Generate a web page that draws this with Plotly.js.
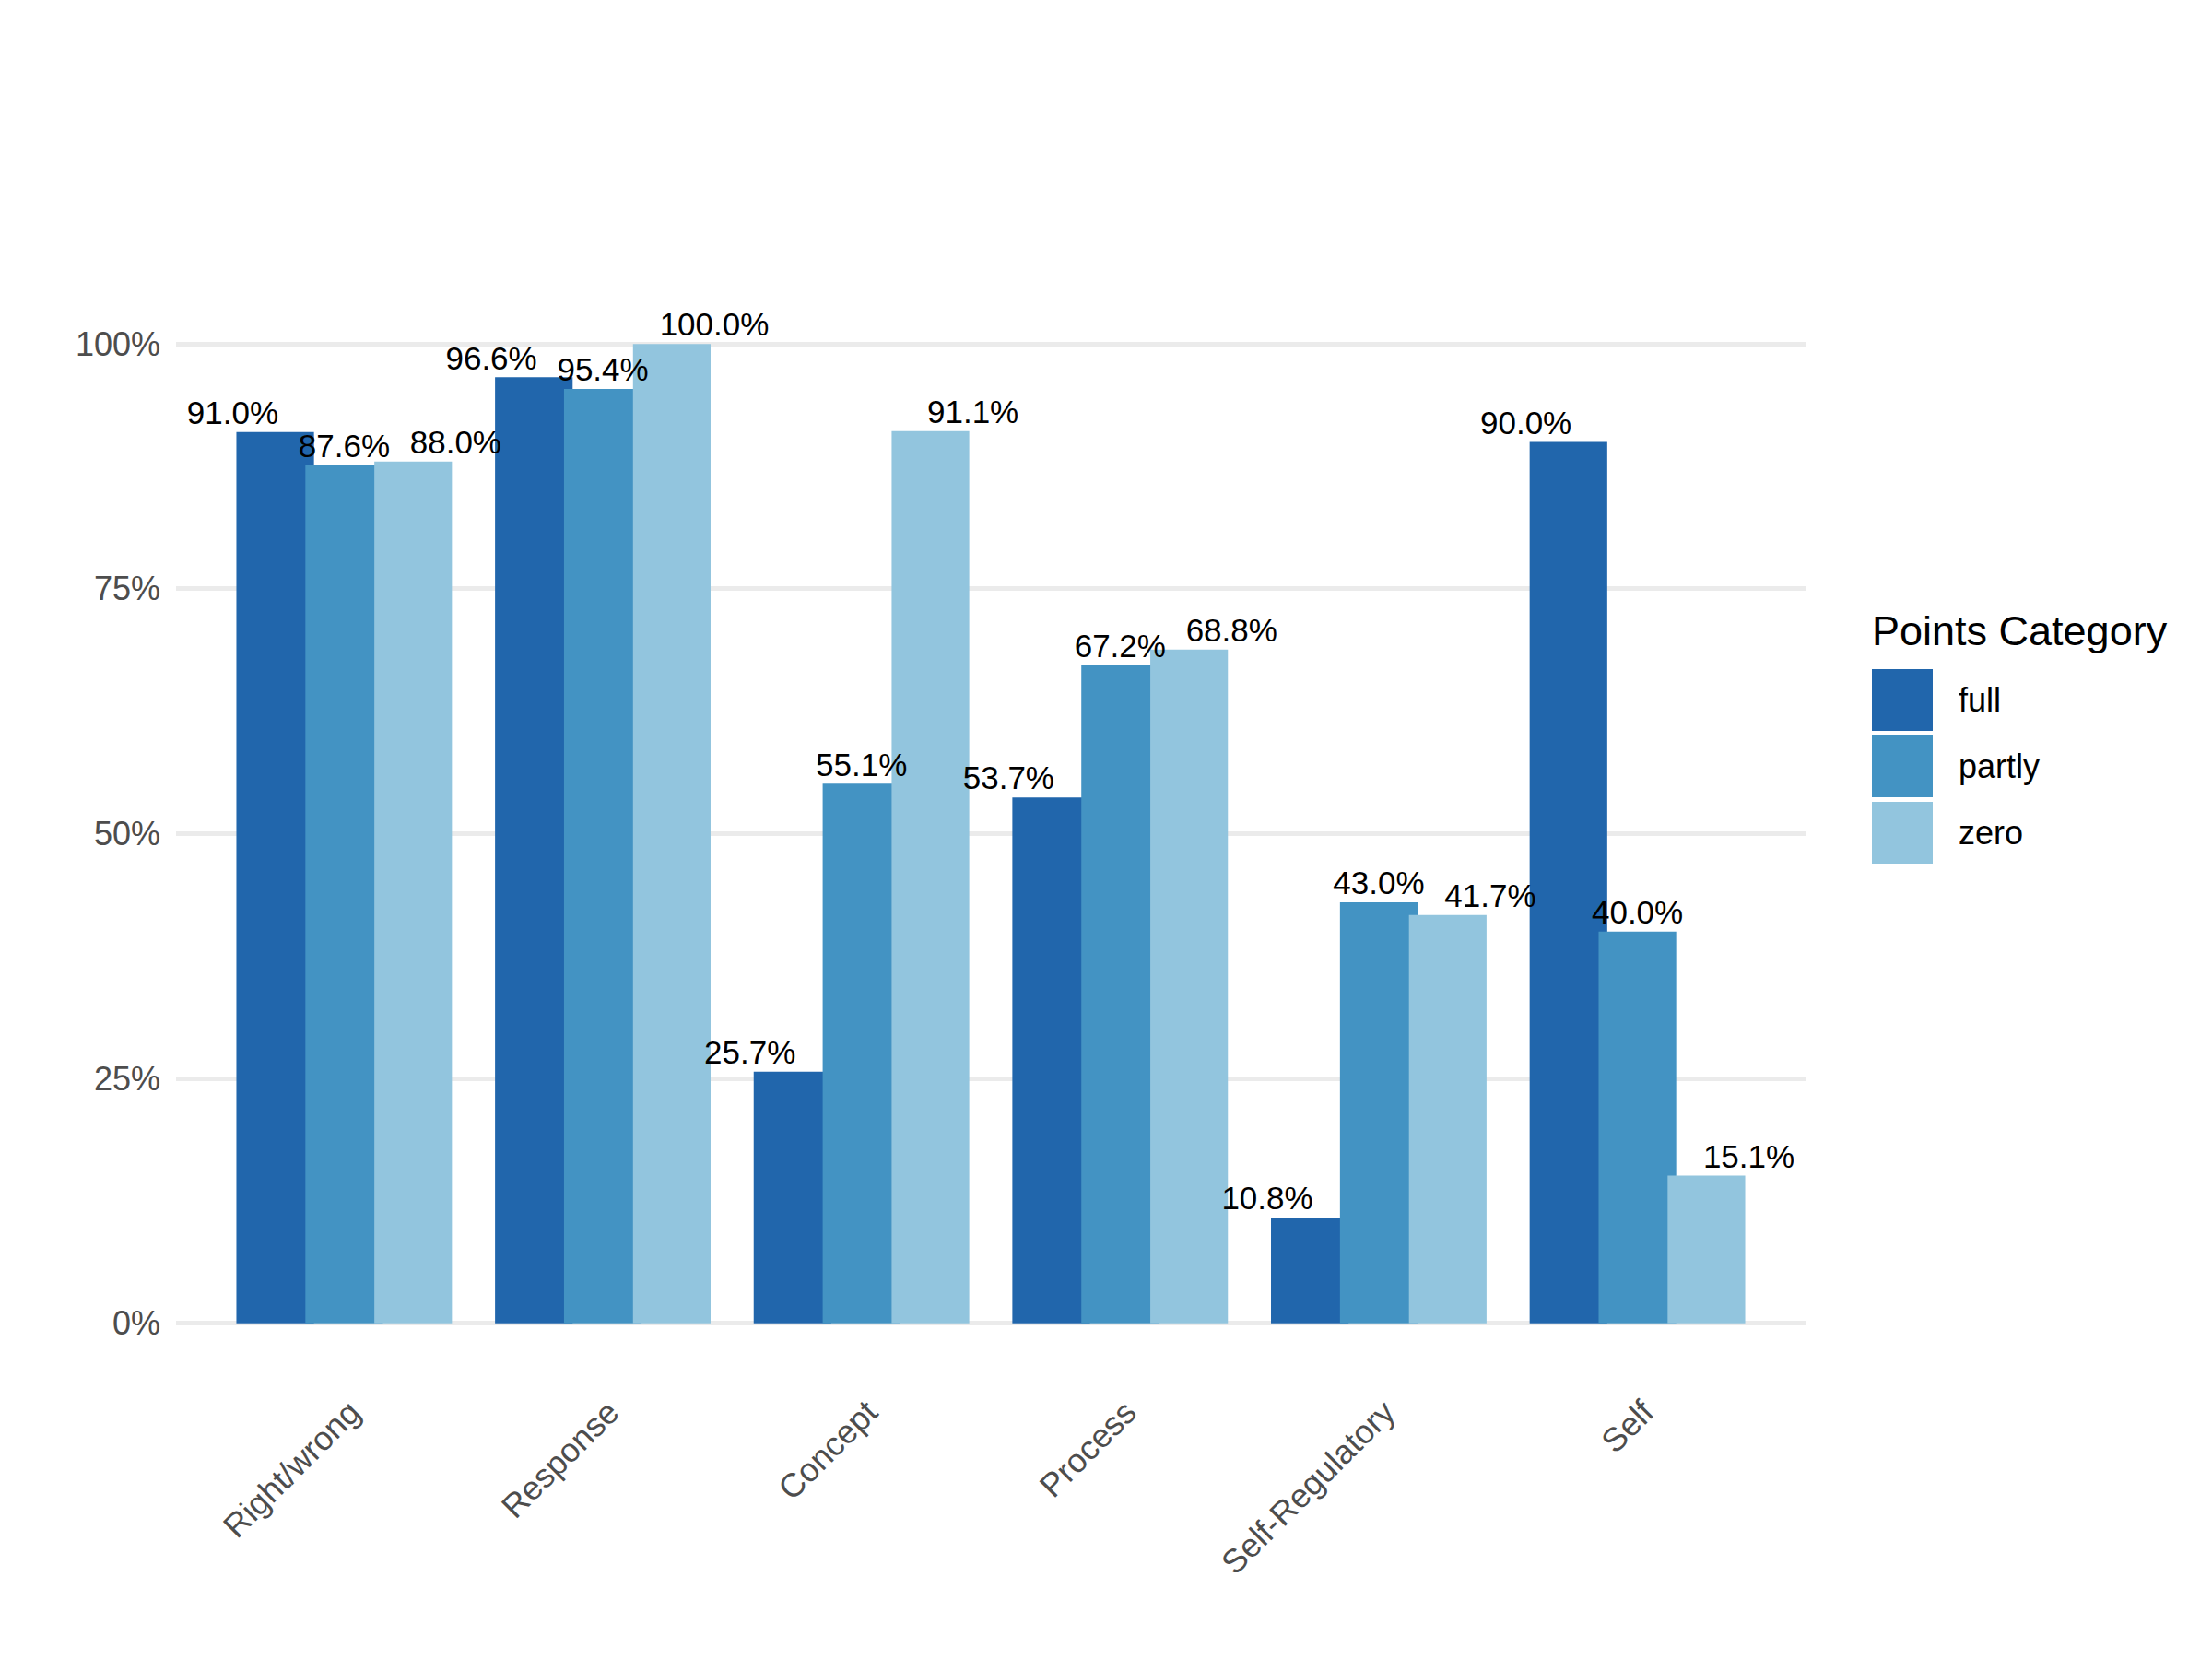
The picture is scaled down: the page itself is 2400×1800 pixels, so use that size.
<!DOCTYPE html>
<html>
<head>
<meta charset="utf-8">
<script src="https://cdn.plot.ly/plotly-3.0.1.min.js"></script>
<style>
  body { margin: 0; background: #fff; }
  #plotArea { width: 2400px; height: 1800px; }
</style>
</head>
<body>
<div id="plotArea"></div>
<script>
// feedback types on the x axis
var categories = ["Right/wrong", "Response", "Concept", "Process", "Self-Regulatory", "Self"];
// points category series (share, 0..1)
var seriesNames = ["full", "partly", "zero"];
var fullValues = [0.910, 0.966, 0.257, 0.537, 0.108, 0.900];
var partlyValues = [0.876, 0.954, 0.551, 0.672, 0.430, 0.400];
var zeroValues = [0.880, 1.000, 0.911, 0.688, 0.417, 0.151];
var yTicks = [0, 0.25, 0.5, 0.75, 1];

var seriesValues = [fullValues, partlyValues, zeroValues];
var colors = ["#2166AC", "#4393C3", "#92C5DE"];
var FONT = "Liberation Sans, Arial, sans-serif";

// plot area in pixels
var L = 191, R = 1959, T = 320, B = 1489;
function px(x) { return (x - L) / (R - L); }
function py(y) { return (B - y) / (B - T); }

var barWidth = 0.3, barStep = 0.2667, labelStep = 0.431;
var idx = categories.map(function (c, i) { return i; });

var traces = [];
seriesValues.forEach(function (vals, k) {
  traces.push({
    type: "bar",
    name: seriesNames[k],
    x: idx.map(function (i) { return i + (k - 1) * barStep; }),
    y: vals,
    width: barWidth,
    marker: { color: colors[k], line: { width: 0 } },
    hoverinfo: "skip",
    showlegend: false
  });
});
seriesValues.forEach(function (vals, k) {
  traces.push({
    type: "scatter",
    mode: "text",
    x: idx.map(function (i) { return i + (k - 1) * labelStep; }),
    y: vals,
    text: vals.map(function (v) { return (v * 100).toFixed(1) + "%"; }),
    textposition: "top center",
    textfont: { family: FONT, size: 35, color: "#000000" },
    hoverinfo: "skip",
    showlegend: false,
    cliponaxis: false
  });
});

// legend drawn as shapes + annotations
var shapes = [], annotations = [];
annotations.push({
  xref: "paper", yref: "paper", x: px(2029), y: py(684),
  xanchor: "left", yanchor: "middle", showarrow: false,
  text: "Points Category", font: { family: FONT, size: 45, color: "#000000" }
});
seriesNames.forEach(function (n, k) {
  var top = 726 + k * 72, bot = top + 67;
  shapes.push({
    type: "rect", xref: "paper", yref: "paper",
    x0: px(2031), x1: px(2097), y0: py(bot), y1: py(top),
    fillcolor: colors[k], line: { width: 0 }
  });
  annotations.push({
    xref: "paper", yref: "paper", x: px(2123), y: py((top + bot) / 2),
    xanchor: "left", yanchor: "middle", showarrow: false,
    text: n, font: { family: FONT, size: 36, color: "#000000" }
  });
});

var layout = {
  width: 2400,
  height: 1800,
  paper_bgcolor: "#ffffff",
  plot_bgcolor: "#ffffff",
  margin: { l: L, r: 2400 - R, t: T, b: 1800 - B },
  barmode: "overlay",
  showlegend: false,
  font: { family: FONT },
  xaxis: {
    range: [-0.65, 5.65],
    tickvals: idx,
    ticktext: categories,
    tickangle: -45,
    tickfont: { family: FONT, size: 36, color: "#4D4D4D" },
    showgrid: false,
    zeroline: false,
    showline: false,
    ticks: "",
    ticklabelstandoff: 14,
    ticklabelshift: 7
  },
  yaxis: {
    range: [-0.05, 1.05],
    tickvals: yTicks,
    tickformat: ".0%",
    tickfont: { family: FONT, size: 36, color: "#4D4D4D" },
    gridcolor: "#EBEBEB",
    gridwidth: 5,
    zeroline: false,
    showline: false,
    ticks: "",
    ticklabelstandoff: 16
  },
  shapes: shapes,
  annotations: annotations
};

Plotly.newPlot("plotArea", traces, layout, { staticPlot: true });
</script>
</body>
</html>
